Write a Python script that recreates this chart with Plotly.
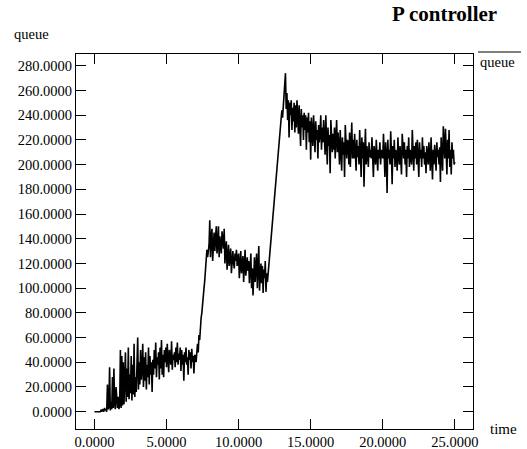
import plotly.graph_objects as go

# sampling grid of the queue trace (seconds)
T_START = 0.0
T_STEP = 0.05

# queue length samples, one row per second (20 samples each)
queue = (
    [0, 0, 0, 0, 0, 0, 0, 0, 0, 1, 0, 2, 1, 0, 3, 1, 2, 0, 22, 2] +
    [4, 36, 1, 8, 2, 28, 3, 35, 6, 2, 20, 4, 3, 12, 2, 6, 50, 3, 45, 5] +
    [40, 6, 22, 48, 8, 35, 12, 52, 10, 30, 15, 45, 9, 38, 14, 55, 12, 28, 16, 42] +
    [60, 18, 40, 22, 50, 26, 35, 55, 20, 44, 25, 48, 18, 38, 28, 52, 22, 45, 30, 40] +
    [16, 42, 30, 50, 35, 56, 28, 44, 38, 48, 26, 52, 35, 58, 30, 46, 28, 50, 40, 52] +
    [36, 55, 40, 32, 50, 44, 38, 57, 34, 46, 42, 48, 36, 52, 40, 56, 38, 47, 42, 52] +
    [33, 50, 38, 46, 25, 48, 40, 52, 38, 44, 30, 50, 42, 48, 35, 51, 40, 45, 31, 46] +
    [45, 40, 50, 55, 48, 62, 58, 70, 76, 80, 85, 92, 100, 106, 114, 122, 131, 125, 130, 135] +
    [155, 125, 140, 148, 122, 138, 145, 130, 140, 150, 128, 135, 150, 125, 142, 133, 128, 146, 138, 132] +
    [148, 120, 130, 138, 115, 128, 135, 118, 125, 132, 112, 126, 130, 120, 116, 128, 122, 131, 118, 124] +
    [128, 108, 120, 130, 112, 122, 126, 105, 118, 131, 110, 120, 125, 114, 122, 104, 118, 128, 100, 116] +
    [94, 118, 125, 105, 120, 128, 100, 115, 134, 98, 112, 120, 104, 118, 96, 115, 108, 122, 97, 112] +
    [105, 112, 117, 125, 135, 140, 144, 152, 160, 166, 171, 180, 190, 198, 206, 212, 215, 222, 230, 236] +
    [244, 238, 248, 255, 262, 274, 245, 258, 236, 252, 222, 250, 240, 252, 228, 246, 235, 250, 226, 248] +
    [230, 252, 238, 225, 248, 232, 215, 245, 230, 240, 220, 242, 228, 240, 212, 238, 226, 242, 218, 235] +
    [204, 238, 222, 215, 240, 225, 210, 235, 220, 228, 205, 232, 218, 226, 240, 212, 230, 218, 236, 222] +
    [208, 240, 222, 200, 230, 215, 224, 193, 236, 218, 210, 225, 212, 230, 205, 222, 236, 210, 226, 215] +
    [200, 228, 212, 195, 222, 208, 218, 190, 232, 210, 205, 220, 218, 200, 226, 198, 215, 234, 205, 220] +
    [205, 225, 210, 195, 220, 206, 215, 200, 228, 212, 190, 222, 205, 218, 182, 210, 229, 200, 215, 208] +
    [198, 218, 206, 212, 205, 222, 200, 190, 215, 208, 200, 220, 210, 195, 212, 205, 218, 200, 212, 206] +
    [205, 225, 200, 190, 218, 208, 177, 220, 205, 212, 200, 227, 210, 184, 215, 205, 220, 198, 212, 208] +
    [195, 222, 208, 200, 215, 205, 192, 225, 210, 205, 218, 200, 212, 190, 215, 205, 222, 198, 212, 206] +
    [200, 228, 210, 195, 215, 205, 218, 200, 220, 208, 190, 218, 205, 212, 198, 222, 205, 215, 200, 210] +
    [193, 215, 205, 200, 218, 208, 195, 222, 210, 188, 212, 200, 216, 205, 195, 218, 206, 212, 200, 214] +
    [186, 222, 205, 195, 231, 210, 205, 229, 215, 192, 220, 205, 228, 198, 212, 192, 218, 205, 212, 200] +
    [202]
)
time = [round(T_START + i * T_STEP, 4) for i in range(len(queue))]

x_ticks = [0, 5, 10, 15, 20, 25]
y_ticks = [0, 20, 40, 60, 80, 100, 120, 140, 160, 180, 200, 220, 240, 260, 280]

FONT = "Liberation Serif"

fig = go.Figure()
fig.add_trace(go.Scatter(x=time, y=queue, mode="lines",
                         line=dict(color="black", width=1.6),
                         showlegend=False, hoverinfo="skip"))

axis_common = dict(showgrid=False, zeroline=False, showline=True,
                   linecolor="black", linewidth=1, mirror="ticks",
                   ticks="inside", ticklen=10, tickcolor="black", tickwidth=1,
                   tickfont=dict(family=FONT, size=14.5, color="black"),
                   automargin=False)

fig.update_xaxes(range=[-1.28, 26.26], tickvals=x_ticks,
                 ticktext=[f"{v:.4f}" for v in x_ticks], **axis_common)
fig.update_yaxes(range=[-14.0, 289.5], tickvals=y_ticks,
                 ticktext=[f"{v:.4f}" for v in y_ticks], **axis_common)

L, R, T, B = 76, 54, 54, 20
W, H = 527, 449
pw, ph = W - L - R, H - T - B


def px(x):
    return (x - L) / pw


def py(y):
    return (H - y - B) / ph


fig.update_layout(
    width=W, height=H,
    margin=dict(l=L, r=R, t=T, b=B),
    paper_bgcolor="white", plot_bgcolor="white",
    font=dict(family=FONT, color="black"),
    annotations=[
        dict(text="<b>P controller</b>", x=px(499), y=py(14), xref="paper", yref="paper",
             showarrow=False, xanchor="right", yanchor="middle",
             font=dict(family=FONT, size=21, color="black")),
        dict(text="queue", x=px(12), y=py(34), xref="paper", yref="paper",
             showarrow=False, xanchor="left", yanchor="middle",
             font=dict(family=FONT, size=14.5, color="black")),
        dict(text="time", x=px(488), y=py(429), xref="paper", yref="paper",
             showarrow=False, xanchor="left", yanchor="middle",
             font=dict(family=FONT, size=15, color="black")),
        dict(text="queue", x=px(478), y=py(62), xref="paper", yref="paper",
             showarrow=False, xanchor="left", yanchor="middle",
             font=dict(family=FONT, size=14.5, color="black")),
    ],
)
fig.add_shape(type="line", xref="paper", yref="paper",
              x0=px(478), x1=px(521), y0=py(52), y1=py(52),
              line=dict(color="black", width=1))

fig.write_html("out.html")
